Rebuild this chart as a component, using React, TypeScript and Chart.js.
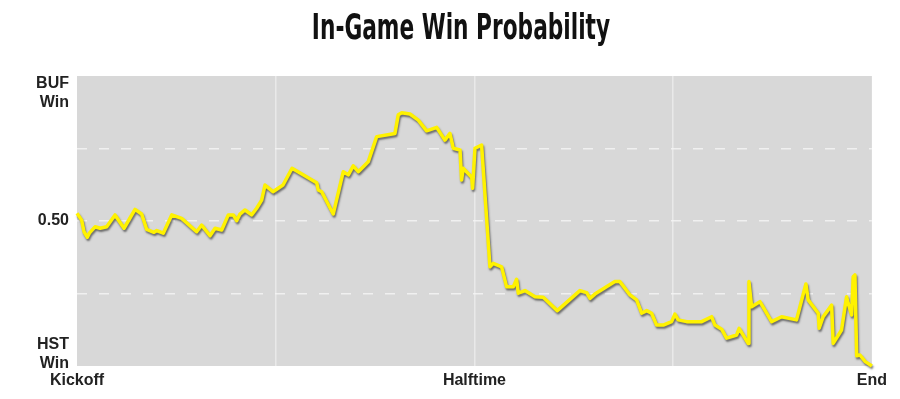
import { useEffect, useRef } from "react";
import { Chart, registerables } from "chart.js";

Chart.register(...registerables);

// Game clock (minutes elapsed, 0–60) and Buffalo win probability
const gameMinutes = [
  0, 0.35, 0.53, 0.78, 0.93, 1.36, 1.74, 2.24, 2.87, 3.55, 4.38, 4.88, 5.26, 5.81, 6.02, 6.51,
  7.15, 7.9, 9.03, 9.41, 10.04, 10.42, 10.92, 11.42, 11.8, 12.05, 12.3, 12.68, 13.18, 13.56,
  13.94, 14.19, 14.79, 15.55, 16.23, 18.09, 18.21, 18.47, 19.34, 20.1, 20.48, 20.85, 21.23,
  21.98, 22.62, 24.0, 24.25, 24.51, 25.13, 25.76, 26.39, 27.15, 27.77, 28.15, 28.4, 28.91,
  29.03, 29.15, 29.79, 29.86, 30.04, 30.54, 31.17, 31.42, 32.05, 32.43, 32.93, 33.18, 33.31,
  33.81, 34.57, 35.19, 36.25, 37.96, 38.47, 38.72, 39.09, 40.6, 40.98, 41.74, 42.24, 42.62,
  43.0, 43.37, 43.75, 44.25, 44.88, 45.13, 45.38, 46.02, 47.15, 47.9, 48.15, 48.66, 49.03,
  49.79, 49.98, 50.66, 50.72, 50.92, 51.55, 52.43, 53.18, 54.31, 55.02, 55.19, 55.95, 56.02,
  56.32, 56.96, 57.08, 57.71, 58.09, 58.21, 58.47, 58.59, 58.72, 58.85, 59.1, 59.5, 60,
];
const bufWinProb = [
  0.527, 0.503, 0.463, 0.444, 0.458, 0.48, 0.475, 0.48, 0.521, 0.475, 0.54, 0.524, 0.471, 0.461,
  0.467, 0.458, 0.521, 0.509, 0.463, 0.486, 0.449, 0.475, 0.469, 0.521, 0.521, 0.501, 0.524,
  0.538, 0.521, 0.544, 0.572, 0.624, 0.601, 0.624, 0.682, 0.632, 0.607, 0.601, 0.524, 0.67,
  0.659, 0.69, 0.67, 0.704, 0.791, 0.802, 0.866, 0.873, 0.869, 0.848, 0.811, 0.823, 0.779,
  0.802, 0.751, 0.745, 0.641, 0.682, 0.651, 0.613, 0.751, 0.762, 0.342, 0.354, 0.342, 0.273,
  0.273, 0.299, 0.251, 0.26, 0.239, 0.237, 0.191, 0.26, 0.253, 0.233, 0.248, 0.291, 0.291,
  0.245, 0.228, 0.182, 0.191, 0.182, 0.141, 0.141, 0.153, 0.179, 0.159, 0.153, 0.153, 0.17,
  0.141, 0.127, 0.096, 0.107, 0.13, 0.078, 0.291, 0.204, 0.222, 0.153, 0.17, 0.159, 0.283,
  0.228, 0.182, 0.13, 0.17, 0.21, 0.078, 0.124, 0.239, 0.216, 0.176, 0.308, 0.314, 0.035,
  0.038, 0.015, 0,
];

const chartTitle = "In-Game Win Probability";
const xTickValues = [0, 30, 60];
const xTickLabels = ["Kickoff", "Halftime", "End"];
const yTickValues = [0.041, 0.5, 0.941];
const yTickLabels: (string | string[])[] = [["HST", "Win"], "0.50", ["BUF", "Win"]];
const yGridValues = [0.25, 0.5, 0.75];

const plotBackground = {
  id: "plotBackground",
  beforeDraw(chart: any) {
    const { ctx, chartArea } = chart;
    ctx.save();
    ctx.fillStyle = "#D8D8D8";
    ctx.fillRect(chartArea.left, chartArea.top, chartArea.right - chartArea.left, chartArea.bottom - chartArea.top);
    ctx.restore();
  },
};

const lineShadow = {
  id: "lineShadow",
  beforeDatasetDraw(chart: any) {
    const ctx = chart.ctx;
    ctx.save();
    ctx.shadowColor = "rgba(0,0,0,0.5)";
    ctx.shadowOffsetX = 1;
    ctx.shadowOffsetY = 2;
    ctx.shadowBlur = 2;
  },
  afterDatasetDraw(chart: any) {
    chart.ctx.restore();
  },
};

// Condensed headline title (no condensed bold face installed, so squeeze horizontally)
const condensedTitle = {
  id: "condensedTitle",
  afterDraw(chart: any) {
    const ctx = chart.ctx;
    ctx.save();
    ctx.font = "bold 36px 'DejaVu Sans Condensed', 'DejaVu Sans', sans-serif";
    ctx.fillStyle = "#111";
    ctx.textAlign = "center";
    ctx.textBaseline = "alphabetic";
    ctx.translate(453, 31);
    ctx.scale(0.67, 1);
    ctx.fillText(chartTitle, 0, 0);
    ctx.restore();
  },
};

export default function App() {
  const canvasRef = useRef<HTMLCanvasElement | null>(null);

  useEffect(() => {
    if (!canvasRef.current) return;
    const data = gameMinutes.map((t, i) => ({ x: t, y: bufWinProb[i] }));
    const labelFont = { family: "'Liberation Sans', Arial, sans-serif", size: 16, weight: "bold" as const, lineHeight: 1.2 };
    const chart = new Chart(canvasRef.current, {
      type: "line",
      data: {
        datasets: [
          {
            data,
            borderColor: "#FFF200",
            borderWidth: 3.5,
            pointRadius: 0,
            tension: 0,
            fill: false,
            clip: false as any,
            borderJoinStyle: "round",
          },
        ],
      },
      plugins: [plotBackground, lineShadow, condensedTitle],
      options: {
        animation: false,
        responsive: true,
        maintainAspectRatio: false,
        layout: { padding: { left: 26, right: 20, top: 68, bottom: 0 } },
        plugins: {
          legend: { display: false },
          tooltip: { enabled: false },
          title: { display: false },
        },
        scales: {
          x: {
            type: "linear",
            min: 0,
            max: 60,
            afterBuildTicks: (scale: any) => {
              scale.ticks = [0, 15, 30, 45, 60].map((v) => ({ value: v }));
            },
            afterFit: (scale: any) => {
              scale.height = 25;
            },
            ticks: {
              autoSkip: false,
              maxRotation: 0,
              padding: 5,
              color: "#222",
              font: labelFont,
              callback: (v: any) => {
                const i = xTickValues.indexOf(Number(v));
                return i >= 0 ? xTickLabels[i] : "";
              },
            },
            grid: {
              drawTicks: false,
              lineWidth: 1.5,
              color: (ctx: any) => (ctx.tick && (ctx.tick.value === 0 || ctx.tick.value === 60) ? "rgba(0,0,0,0)" : "#E9E9E9"),
            },
            border: { display: false },
          },
          y: {
            type: "linear",
            min: 0,
            max: 1,
            afterBuildTicks: (scale: any) => {
              scale.ticks = [0, ...yTickValues, ...yGridValues, 1]
                .sort((a, b) => a - b)
                .filter((v, i, arr) => arr.indexOf(v) === i)
                .map((v) => ({ value: v }));
            },
            afterFit: (scale: any) => {
              scale.width = 43;
            },
            ticks: {
              autoSkip: false,
              padding: 8,
              color: "#222",
              font: labelFont,
              callback: (v: any) => {
                const i = yTickValues.indexOf(Number(v));
                return i >= 0 ? yTickLabels[i] : "";
              },
            },
            grid: {
              drawTicks: false,
              lineWidth: 1.5,
              color: (ctx: any) => (ctx.tick && yGridValues.includes(ctx.tick.value) ? "rgba(245,245,245,0.85)" : "rgba(0,0,0,0)"),
            },
            border: { display: false, dash: [10, 12] },
          },
        },
      },
    });
    return () => chart.destroy();
  }, []);

  return (
    <div style={{ position: "relative", height: 383 }}>
      <canvas ref={canvasRef} />
    </div>
  );
}
